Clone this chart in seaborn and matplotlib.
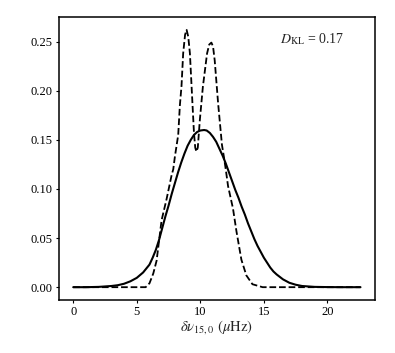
# KL divergence comparison: model PDF (solid) vs sampled PDF (dashed)

import numpy as np
import pandas as pd
import matplotlib
matplotlib.use('Agg')
import matplotlib.pyplot as plt
import seaborn as sns

# values
solid_x = [0, 1, 2, 3, 3.5, 4, 4.5, 5, 5.5, 5.75, 6, 6.25, 6.5, 6.75, 7, 7.25,
           7.5, 7.75, 8, 8.25, 8.5, 8.75, 9, 9.25, 9.5, 9.75, 10, 10.3, 10.5,
           10.75, 11, 11.25, 11.5, 11.75, 12, 12.25, 12.5, 12.75, 13, 13.25,
           13.5, 13.75, 14, 14.25, 14.5, 14.75, 15, 15.25, 15.5, 15.75, 16,
           16.5, 17, 17.5, 18, 19, 20, 21, 22, 22.6]
solid_y = [0, 0, 0.0003, 0.0012, 0.002, 0.0035, 0.006, 0.0095, 0.015, 0.019,
           0.023, 0.030, 0.038, 0.048, 0.060, 0.072,
           0.083, 0.095, 0.106, 0.117, 0.127, 0.136, 0.144, 0.150, 0.155,
           0.158, 0.1595, 0.160, 0.1595,
           0.157, 0.153, 0.148, 0.141, 0.134, 0.126, 0.117, 0.108, 0.099,
           0.091, 0.082,
           0.074, 0.065, 0.057, 0.049, 0.042, 0.036, 0.030, 0.025, 0.020,
           0.016, 0.013,
           0.008, 0.0045, 0.0025, 0.0012, 0.0003, 0.0001, 0, 0, 0]

dashed_x = [0, 5.7, 6.0, 6.3, 6.56, 6.95, 7.35, 7.74, 7.87, 8.0, 8.26, 8.39,
            8.52, 8.65, 8.8, 8.92, 9.05, 9.18, 9.38, 9.5, 9.6, 9.69, 9.8, 9.96,
            10.2, 10.53, 10.7, 10.87, 11.0, 11.13, 11.4, 11.7, 11.85, 12.0,
            12.18, 12.57, 12.84, 13.23, 13.62, 14.1, 14.9, 22.6]
dashed_y = [0, 0, 0.004, 0.014, 0.027, 0.068, 0.090, 0.114, 0.120, 0.133,
            0.155, 0.185, 0.205, 0.238, 0.257, 0.262, 0.255, 0.238, 0.187,
            0.157, 0.142, 0.138, 0.142, 0.170, 0.204, 0.238, 0.247, 0.249,
            0.245, 0.231, 0.187, 0.145, 0.133, 0.120, 0.103, 0.080, 0.057,
            0.028, 0.012, 0.003, 0, 0]

dkl_text = r'$D_{\mathrm{KL}}$ = 0.17'
x_label = r'$\delta \nu_{15,0}\ (\mu\mathrm{Hz})$'

sns.set_style('ticks')
plt.rcParams.update({'font.family': ['Liberation Serif', 'DejaVu Serif'],
                     'mathtext.fontset': 'stix',
                     'xtick.labelsize': 9,
                     'ytick.labelsize': 9,
                     'xtick.major.size': 2.2,
                     'ytick.major.size': 2.2,
                     'xtick.major.pad': 2.4,
                     'ytick.major.pad': 2.4,
                     'axes.edgecolor': 'black',
                     'axes.linewidth': 1.1,
                     'xtick.color': 'black',
                     'ytick.color': 'black'})

fig = plt.figure(figsize=(3.95, 3.53), dpi=100)
ax = fig.add_axes([0.149, 0.150, 0.800, 0.802])

sns.lineplot(x=solid_x, y=solid_y, ax=ax, color='black', linewidth=1.5)
sns.lineplot(x=dashed_x, y=dashed_y, ax=ax, color='black', linewidth=1.3,
             linestyle='--')

ax.set_xticks([0, 5, 10, 15, 20])
ax.set_yticks([0, 0.05, 0.10, 0.15, 0.20, 0.25])
ax.set_yticklabels(['0.00', '0.05', '0.10', '0.15', '0.20', '0.25'])
ax.set_xlabel(x_label, fontsize=10.5, labelpad=0)
ax.text(0.70, 0.92, dkl_text, transform=ax.transAxes, fontsize=10,
        va='center', ha='left')

fig.savefig('out.png', dpi=100)
